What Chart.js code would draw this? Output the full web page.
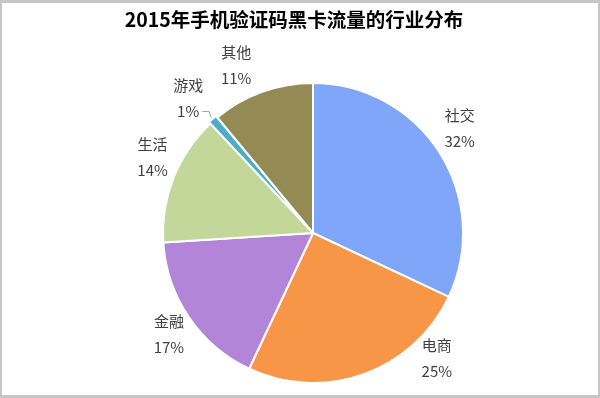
<!DOCTYPE html>
<html>
<head>
<meta charset="utf-8">
<script src="https://cdn.jsdelivr.net/npm/chart.js@4"></script>
<style>
  html, body { margin: 0; padding: 0; background: #fff; }
  #wrap { width: 600px; height: 398px; }
</style>
</head>
<body>
<div id="wrap"><canvas id="industryChart" width="600" height="398"></canvas></div>
<script>
// chart data
const chartTitle = '2015年手机验证码黑卡流量的行业分布';
const industries = ['社交', '电商', '金融', '生活', '游戏', '其他'];
const shares = [32, 25, 17, 14, 1, 11];
const sliceColors = ['#7FA6F8', '#F79646', '#B285D9', '#C4D79B', '#4BACC6', '#948A54'];
const sliceOffsets = [0, 0, 0, 0, 4, 0];

// how far each label block sits from its slice's outer midpoint
const labelNudge = [[20, -24], [73, -16], [-20, 17], [-21, -20], [-23, -19], [-26, -27]];

const labelFont = '15px "Noto Sans CJK SC", "Noto Sans", sans-serif';
const titleFont = 'bold 19.5px "Noto Sans CJK SC", "Noto Sans", sans-serif';

// frame + title, drawn by hand
const framePlugin = {
  id: 'frame',
  beforeDraw(chart) {
    const ctx = chart.ctx;
    ctx.save();
    ctx.fillStyle = '#ffffff';
    ctx.fillRect(0, 0, chart.width, chart.height);
    ctx.fillStyle = '#c6c6c6';
    ctx.fillRect(0, 0, chart.width, 3);
    ctx.fillRect(0, chart.height - 3, chart.width, 3);
    ctx.fillRect(0, 0, 2, chart.height);
    ctx.fillRect(chart.width - 2, 0, 2, chart.height);
    ctx.fillStyle = '#000000';
    ctx.font = titleFont;
    ctx.textAlign = 'center';
    ctx.textBaseline = 'middle';
    ctx.fillText(chartTitle, 294, 20);
    ctx.restore();
  }
};

// category name + percent next to every slice
const sliceLabelPlugin = {
  id: 'sliceLabels',
  afterDatasetsDraw(chart) {
    const ctx = chart.ctx;
    const meta = chart.getDatasetMeta(0);
    const total = shares.reduce((a, b) => a + b, 0);
    ctx.save();
    ctx.font = labelFont;
    ctx.fillStyle = '#404040';
    ctx.textAlign = 'center';
    ctx.textBaseline = 'middle';
    meta.data.forEach((arc, i) => {
      const p = arc.getProps(['x', 'y', 'startAngle', 'endAngle', 'outerRadius'], true);
      const mid = (p.startAngle + p.endAngle) / 2;
      const off = sliceOffsets[i];
      const ex = p.x + Math.cos(mid) * (p.outerRadius + off);
      const ey = p.y + Math.sin(mid) * (p.outerRadius + off);
      const lx = ex + labelNudge[i][0];
      const ly = ey + labelNudge[i][1];
      const pct = Math.round(shares[i] / total * 100) + '%';
      ctx.fillText(industries[i], lx, ly - 13);
      ctx.fillText(pct, lx, ly + 13);
      // tiny slice gets a leader line
      if (shares[i] / total < 0.03) {
        const w = ctx.measureText(pct).width;
        ctx.strokeStyle = '#a6a6a6';
        ctx.lineWidth = 1;
        ctx.beginPath();
        ctx.moveTo(lx + w / 2 + 3, ly + 13);
        ctx.lineTo(ex - 2, ly + 13);
        ctx.lineTo(ex, ey);
        ctx.stroke();
      }
    });
    ctx.restore();
  }
};

let ctx = document.getElementById('industryChart').getContext('2d');
let industryChart = new Chart(ctx, {
  type: 'pie',
  data: {
    labels: industries,
    datasets: [{
      data: shares,
      backgroundColor: sliceColors,
      borderColor: '#ffffff',
      borderWidth: 2,
      offset: sliceOffsets
    }]
  },
  options: {
    responsive: false,
    animation: false,
    radius: 150,
    layout: {
      padding: { top: 78, bottom: 10, left: 36, right: 10 }
    },
    plugins: {
      legend: { display: false },
      title: { display: false },
      tooltip: { enabled: false }
    }
  },
  plugins: [framePlugin, sliceLabelPlugin]
});
</script>
</body>
</html>
